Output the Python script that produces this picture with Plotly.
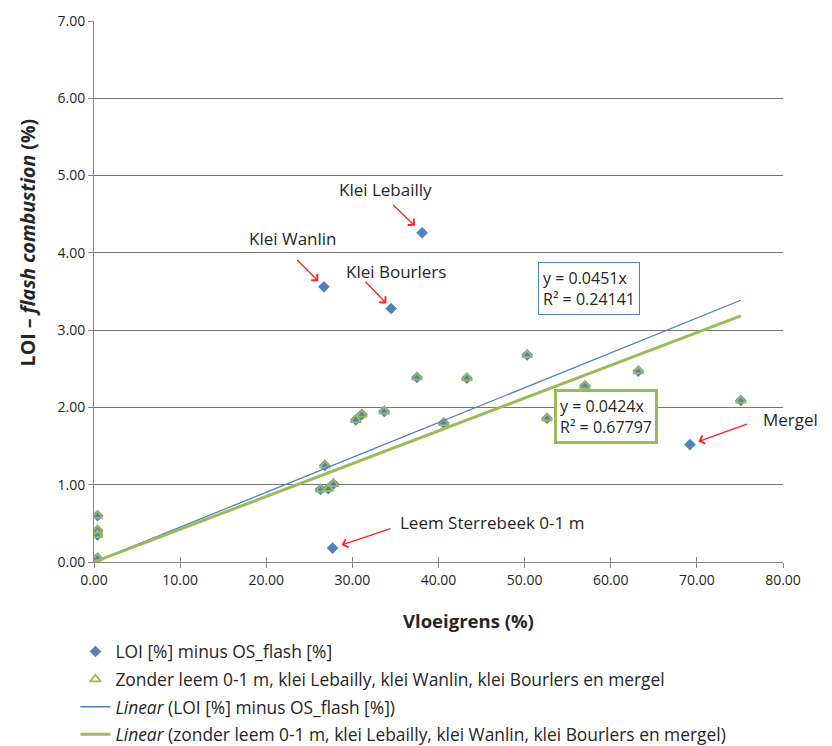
import plotly.graph_objects as go

# ---------------- data ----------------
# samples kept in the filtered series
x_filtered = [0.4, 0.4, 0.4, 0.4, 26.3, 26.8, 27.2, 27.8, 30.4, 31.1, 33.7,
              37.5, 40.6, 43.3, 50.3, 52.6, 57.0, 63.2, 75.1]
y_filtered = [0.60, 0.41, 0.35, 0.05, 0.94, 1.25, 0.95, 1.01, 1.84, 1.91, 1.95,
              2.39, 1.80, 2.38, 2.68, 1.86, 2.28, 2.47, 2.09]

# outliers (only in the full series)
outlier_names = ["Klei Lebailly", "Klei Wanlin", "Klei Bourlers",
                 "Leem Sterrebeek 0-1 m", "Mergel"]
x_outliers = [38.1, 26.7, 34.5, 27.7, 69.2]
y_outliers = [4.26, 3.56, 3.28, 0.18, 1.52]

x_all = x_filtered + x_outliers
y_all = y_filtered + y_outliers

# trend lines (through origin)
slope_all, r2_all = 0.0451, 0.24141
slope_filt, r2_filt = 0.0424, 0.67797

name_all = "LOI [%] minus OS_flash [%]"
name_filt = "Zonder leem 0-1 m, klei Lebailly, klei Wanlin, klei Bourlers en mergel"
name_lin_all = "<i>Linear</i> (LOI [%] minus OS_flash [%])"
name_lin_filt = "<i>Linear</i> (zonder leem 0-1 m, klei Lebailly, klei Wanlin, klei Bourlers en mergel)"

x_ticks = [0, 10, 20, 30, 40, 50, 60, 70, 80]
y_ticks = [0, 1, 2, 3, 4, 5, 6, 7]

# ---------------- styling ----------------
BLUE = "#4F81BD"
GREEN = "#9BBB59"
RED = "#FF1F1F"
GRID = "#767676"
AXIS = "#868686"
TXT = "#262626"
FONT = "Open Sans"

fig = go.Figure()

fig.add_trace(go.Scatter(
    x=x_all, y=y_all, mode="markers", name=name_all, legendgroup="a",
    marker=dict(symbol="diamond", size=9, color=BLUE, line=dict(width=0)),
))
fig.add_trace(go.Scatter(
    x=x_filtered, y=y_filtered, mode="markers", name=name_filt, legendgroup="b",
    marker=dict(symbol="triangle-up-open", size=9, color=GREEN, line=dict(width=1.8, color=GREEN)),
))

x_line_end = max(x_all)
fig.add_trace(go.Scatter(
    x=[0, x_line_end], y=[0, slope_all * x_line_end], mode="lines", name=name_lin_all,
    legendgroup="c", line=dict(color=BLUE, width=1.3),
))
fig.add_trace(go.Scatter(
    x=[0, x_line_end], y=[0, slope_filt * x_line_end], mode="lines", name=name_lin_filt,
    legendgroup="d", line=dict(color=GREEN, width=3),
))
# carrier for the upper half of the crossing x ticks
fig.add_trace(go.Scatter(x=[], y=[], xaxis="x2", showlegend=False, hoverinfo="skip"))

# ---------------- annotations ----------------
# per-outlier placement: (arrow tail dx, dy, standoff, label dx, dy) in pixels
placement = {
    "Klei Lebailly": (-30.6, -29.4, 10, -37, 43.4),
    "Klei Wanlin": (-28.3, -28.4, 8, -31, 48.4),
    "Klei Bourlers": (-27, -28.3, 7, 5, 36.6),
    "Leem Sterrebeek 0-1 m": (59.4, -20, 9.5, 159, 25.3),
    "Mergel": (58.3, -21, 9, 100.5, 25),
}
annotations = []
for nm, xv, yv in zip(outlier_names, x_outliers, y_outliers):
    adx, ady, so, tdx, tdy = placement[nm]
    annotations.append(dict(
        x=xv, y=yv, xref="x", yref="y", text="", showarrow=True,
        ax=adx, ay=ady, arrowhead=4, arrowsize=1.3, arrowwidth=1.3,
        arrowcolor=RED, standoff=so,
    ))
    annotations.append(dict(
        x=xv, y=yv, xref="x", yref="y", text=nm, showarrow=False,
        xshift=tdx, yshift=tdy, xanchor="center", yanchor="middle",
        font=dict(family=FONT, size=17, color=TXT),
    ))

annotations.append(dict(
    x=57.5, y=3.54, xref="x", yref="y",
    text=f"y = {slope_all:.4f}x<br>R² = {r2_all:.5f}",
    showarrow=False, align="left", xanchor="center", yanchor="middle",
    bordercolor=BLUE, borderwidth=1, borderpad=4, bgcolor="white",
    font=dict(family=FONT, size=16, color=TXT),
))
annotations.append(dict(
    x=59.4, y=1.88, xref="x", yref="y",
    text=f"y = {slope_filt:.4f}x<br>R² = {r2_filt:.5f}",
    showarrow=False, align="left", xanchor="center", yanchor="middle",
    bordercolor=GREEN, borderwidth=3, borderpad=3, bgcolor="white",
    font=dict(family=FONT, size=16, color=TXT),
))

# axis titles
annotations.append(dict(
    x=0.544, y=-0.109, xref="paper", yref="paper", text="<b>Vloeigrens (%)</b>",
    showarrow=False, xanchor="center", yanchor="middle",
    font=dict(family=FONT, size=18.5, color=TXT),
))
annotations.append(dict(
    x=-0.0964, y=0.59, xref="paper", yref="paper",
    text="<b>LOI – <i>flash combustion</i> (%)</b>", textangle=-90,
    showarrow=False, xanchor="center", yanchor="middle",
    font=dict(family=FONT, size=19.5, color=TXT),
))

fig.update_layout(
    width=832, height=746,
    margin=dict(l=94, r=49, t=21, b=184, autoexpand=False),
    paper_bgcolor="white", plot_bgcolor="white",
    font=dict(family=FONT, size=14, color=TXT),
    showlegend=True,
    legend=dict(
        x=-0.027, y=-0.1325, xanchor="left", yanchor="top",
        font=dict(family=FONT, size=17.4, color=TXT),
        traceorder="grouped", tracegroupgap=2,
        bgcolor="rgba(0,0,0,0)",
    ),
    xaxis=dict(
        range=[0, 80], tickvals=x_ticks, tickformat=".2f",
        showgrid=False, zeroline=False,
        showline=True, linecolor=AXIS, linewidth=1,
        ticks="outside", ticklen=5, tickcolor=AXIS, tickwidth=1,
        tickfont=dict(family=FONT, size=14, color=TXT),
    ),
    xaxis2=dict(
        overlaying="x", matches="x", anchor="y", side="bottom",
        range=[0, 80], tickvals=x_ticks, showticklabels=False,
        showgrid=False, zeroline=False, showline=False,
        ticks="inside", ticklen=5, tickcolor=AXIS, tickwidth=1,
    ),
    yaxis=dict(
        range=[0, 7], tickvals=y_ticks, tickformat=".2f",
        showgrid=True, gridcolor=GRID, gridwidth=1, zeroline=False,
        showline=True, linecolor=AXIS, linewidth=1,
        ticks="outside", ticklen=5, tickcolor=AXIS, tickwidth=1,
        tickfont=dict(family=FONT, size=14, color=TXT),
    ),
    annotations=annotations,
)

fig.write_html("out.html")
